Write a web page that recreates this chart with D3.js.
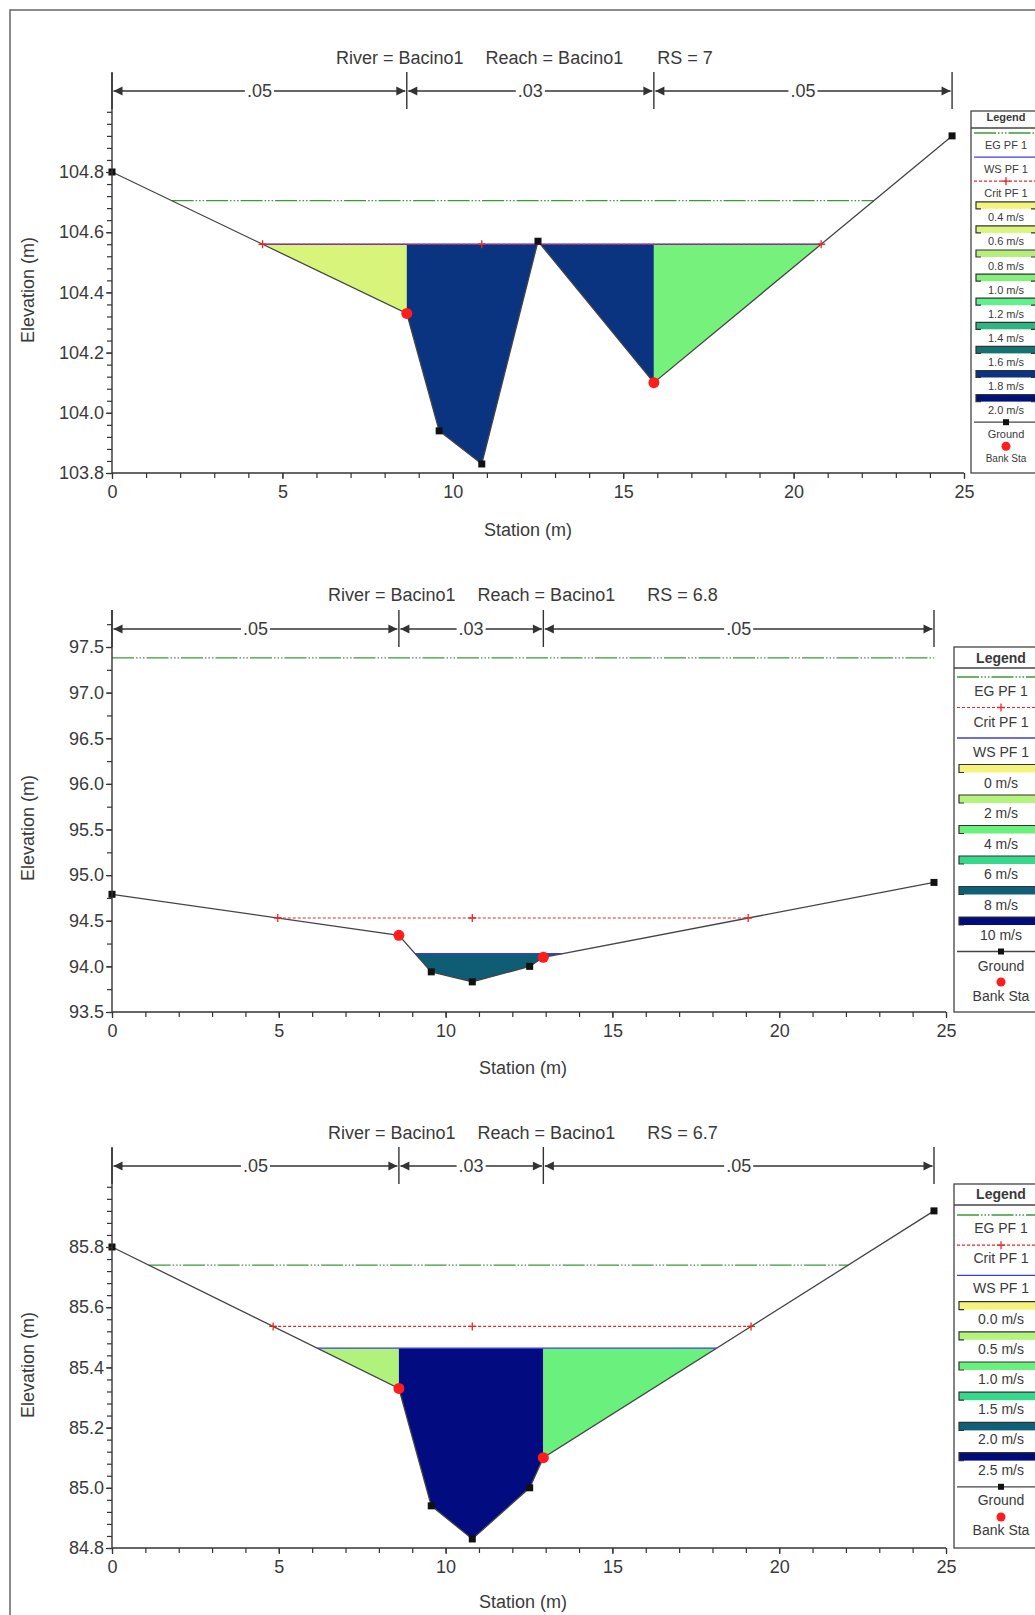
<!DOCTYPE html>
<html>
<head>
<meta charset="UTF-8">
<title>Cross sections Bacino1</title>
<style>
    body {
        margin: 0;
        background: #fff;
    }
    svg {
        display: block;
        font-family: "Liberation Sans", Arial, sans-serif;
    }
    .axis path.domain {
        display: none;
    }
    .axis line {
        stroke: #333;
        stroke-width: 1.2;
    }
    .axis text {
        font-size: 18px;
        fill: #3a3a3a;
    }
    .label {
        font-size: 18px;
        fill: #3a3a3a;
    }
    .ground {
        fill: none;
        stroke: #444;
        stroke-width: 1.3;
    }
    .eg {
        fill: none;
        stroke: #3a9a3a;
        stroke-width: 1.3;
        stroke-dasharray: 22 2 1.5 2 1.5 2 1.5 2;
    }
    .ws {
        fill: none;
        stroke: #3c3cdc;
        stroke-width: 1.3;
    }
    .crit {
        fill: none;
        stroke: #e82828;
        stroke-width: 1.2;
        stroke-dasharray: 3 2;
    }
    .critmark {
        stroke: #e82828;
        stroke-width: 1.3;
    }
    .bank {
        fill: #ff1c1c;
    }
    .gpt {
        fill: #111;
    }
    .nbar {
        stroke: #333;
        stroke-width: 1.4;
        fill: none;
    }
    .legend rect.box {
        fill: #fff;
        stroke: #444;
        stroke-width: 1.3;
    }
    .legend text {
        fill: #3a3a3a;
        text-anchor: middle;
    }
</style>
<script src="https://cdn.jsdelivr.net/npm/d3@7"></script>
</head>
<body>
<script>

    // ---- RS = 7 ----
    var rs7Station = [0, 8.65, 9.6, 10.85, 12.5, 15.9, 24.65];
    var rs7Elev = [104.80, 104.33, 103.94, 103.83, 104.57, 104.10, 104.92];
    var rs7Banks = [8.65, 15.9];
    var rs7NBreaks = [0, 8.65, 15.9, 24.65];
    var rs7NValues = [".05", ".03", ".05"];
    var rs7EG = 104.705, rs7WS = 104.56, rs7Crit = 104.56;
    var rs7YLabels = [103.8, 104.0, 104.2, 104.4, 104.6, 104.8];
    var rs7Lines = ["EG PF 1", "WS PF 1", "Crit PF 1"];
    var rs7Speeds = ["0.4 m/s", "0.6 m/s", "0.8 m/s", "1.0 m/s", "1.2 m/s", "1.4 m/s", "1.6 m/s", "1.8 m/s", "2.0 m/s"];

    // ---- RS = 6.8 ----
    var rs68Station = [0, 8.6, 9.57, 10.8, 12.52, 12.93, 24.64];
    var rs68Elev = [94.79, 94.34, 93.94, 93.83, 94.0, 94.10, 94.92];
    var rs68Banks = [8.6, 12.93];
    var rs68NBreaks = [0, 8.6, 12.93, 24.64];
    var rs68NValues = [".05", ".03", ".05"];
    var rs68EG = 97.38, rs68WS = 94.14, rs68Crit = 94.53;
    var rs68YLabels = [93.5, 94.0, 94.5, 95.0, 95.5, 96.0, 96.5, 97.0, 97.5];
    var rs68Lines = ["EG PF 1", "Crit PF 1", "WS PF 1"];
    var rs68Speeds = ["0 m/s", "2 m/s", "4 m/s", "6 m/s", "8 m/s", "10 m/s"];

    // ---- RS = 6.7 ----
    var rs67Station = [0, 8.6, 9.57, 10.8, 12.52, 12.93, 24.64];
    var rs67Elev = [85.80, 85.33, 84.94, 84.83, 85.0, 85.10, 85.92];
    var rs67Banks = [8.6, 12.93];
    var rs67NBreaks = [0, 8.6, 12.93, 24.64];
    var rs67NValues = [".05", ".03", ".05"];
    var rs67EG = 85.74, rs67WS = 85.464, rs67Crit = 85.536;
    var rs67YLabels = [84.8, 85.0, 85.2, 85.4, 85.6, 85.8];
    var rs67Lines = ["EG PF 1", "Crit PF 1", "WS PF 1"];
    var rs67Speeds = ["0.0 m/s", "0.5 m/s", "1.0 m/s", "1.5 m/s", "2.0 m/s", "2.5 m/s"];

    var xLabels = [0, 5, 10, 15, 20, 25];

    // colours (left overbank, channel, right overbank) and legend swatches
    var rs7Fill = ["#d8f47a", "#0a3480", "#76f27c"];
    var rs68Fill = ["#0e5d74", "#0e5d74", "#0e5d74"];
    var rs67Fill = ["#b0f27c", "#020c80", "#6af07c"];
    var rs7SpeedColors = ["#f4f47c", "#dcf47c", "#b6ee7c", "#84f07c", "#5ef28a", "#2fb485", "#157272", "#0b3381", "#001276"];
    var rs68SpeedColors = ["#f4f47c", "#b4f47c", "#6af07c", "#36d88c", "#0f5f78", "#000c7a"];

    var svg = d3.select("body").append("svg")
            .attr("width", 1035)
            .attr("height", 1615);

    svg.append("rect")
            .attr("x", 10).attr("y", 10)
            .attr("width", 1060).attr("height", 1640)
            .attr("fill", "none")
            .attr("stroke", "#666")
            .attr("stroke-width", 1.5);

    function crossing(st, el, i, level) {
        var t = (level - el[i]) / (el[i + 1] - el[i]);
        return st[i] + t * (st[i + 1] - st[i]);
    }

    // outermost stations where a level meets the ground
    function levelExtent(st, el, level) {
        var n = st.length, lo = st[0], hi = st[n - 1], i;
        if (el[0] > level) {
            for (i = 0; i < n - 1; i++) {
                if (el[i + 1] < level) { lo = crossing(st, el, i, level); break; }
            }
        }
        if (el[n - 1] > level) {
            for (i = n - 2; i >= 0; i--) {
                if (el[i] < level) { hi = crossing(st, el, i, level); break; }
            }
        }
        return [lo, hi];
    }

    function chart(d, L) {
        var g = svg.append("g");

        var x = d3.scaleLinear().domain([0, 25]).range([L.x0, L.x1]);
        var y = d3.scaleLinear().domain(L.yDom).range(L.yRng);
        var yBottom = L.yRng[0];

        // water, split into left overbank / channel / right overbank
        var pts = [];
        d.station.forEach(function (s, i) {
            pts.push([s, d.elev[i]]);
            if (i < d.station.length - 1 && (d.elev[i] - d.ws) * (d.elev[i + 1] - d.ws) < 0) {
                pts.push([crossing(d.station, d.elev, i, d.ws), d.ws]);
            }
        });
        var edges = [-Infinity, d.banks[0], d.banks[1], Infinity];
        var area = d3.area()
                .x(function (p) { return x(p[0]); })
                .y0(y(d.ws))
                .y1(function (p) { return y(Math.min(p[1], d.ws)); });
        [0, 1, 2].forEach(function (k) {
            var part = pts.filter(function (p) { return p[0] >= edges[k] && p[0] <= edges[k + 1]; });
            g.append("path").attr("d", area(part)).attr("fill", d.fill[k]);
        });

        // energy grade
        var egx = levelExtent(d.station, d.elev, d.eg);
        g.append("line").attr("class", "eg")
                .attr("x1", x(egx[0])).attr("x2", x(egx[1]))
                .attr("y1", y(d.eg)).attr("y2", y(d.eg));

        // ground
        var line = d3.line()
                .x(function (s, i) { return x(s); })
                .y(function (s, i) { return y(d.elev[i]); });
        g.append("path").attr("class", "ground").attr("d", line(d.station));

        // water surface
        var wsx = levelExtent(d.station, d.elev, d.ws);
        g.append("line").attr("class", "ws")
                .attr("x1", x(wsx[0])).attr("x2", x(wsx[1]))
                .attr("y1", y(d.ws)).attr("y2", y(d.ws));

        // critical depth with + marks at the ends and over the thalweg
        var crx = levelExtent(d.station, d.elev, d.crit);
        g.append("line").attr("class", "crit")
                .attr("x1", x(crx[0])).attr("x2", x(crx[1]))
                .attr("y1", y(d.crit)).attr("y2", y(d.crit));
        var thalweg = d.station[d.elev.indexOf(d3.min(d.elev))];
        [crx[0], thalweg, crx[1]].forEach(function (s) {
            g.append("path").attr("class", "critmark")
                    .attr("d", "M" + (x(s) - 4) + "," + y(d.crit) + "h8M" + x(s) + "," + (y(d.crit) - 4) + "v8");
        });

        // ground points and bank stations
        d.station.forEach(function (s, i) {
            if (d.banks.indexOf(s) >= 0) {
                g.append("circle").attr("class", "bank")
                        .attr("cx", x(s)).attr("cy", y(d.elev[i])).attr("r", 5.5);
            } else {
                g.append("rect").attr("class", "gpt")
                        .attr("x", x(s) - 3.5).attr("y", y(d.elev[i]) - 3.5)
                        .attr("width", 7).attr("height", 7);
            }
        });

        // axes
        g.append("line").attr("stroke", "#333").attr("stroke-width", 1.4)
                .attr("x1", L.x0).attr("x2", L.x0).attr("y1", L.axisTop).attr("y2", yBottom);
        g.append("line").attr("stroke", "#333").attr("stroke-width", 1.4)
                .attr("x1", L.x0).attr("x2", L.x1).attr("y1", yBottom).attr("y2", yBottom);

        var yMinor = d3.range(L.yDom[0], L.minorTop + 1e-6, L.minorStep);
        g.append("g").attr("class", "axis")
                .attr("transform", "translate(" + L.x0 + ",0)")
                .call(d3.axisLeft(y).tickValues(yMinor).tickSize(5).tickFormat(""));
        g.append("g").attr("class", "axis")
                .attr("transform", "translate(" + L.x0 + ",0)")
                .call(d3.axisLeft(y).tickValues(d.yLabels).tickSize(6).tickPadding(2).tickFormat(d3.format(L.yFmt)));

        g.append("g").attr("class", "axis")
                .attr("transform", "translate(0," + yBottom + ")")
                .call(d3.axisBottom(x).tickValues(d3.range(0, 26, 1)).tickSize(5).tickFormat(""));
        g.append("g").attr("class", "axis")
                .attr("transform", "translate(0," + yBottom + ")")
                .call(d3.axisBottom(x).tickValues(xLabels).tickSize(6).tickPadding(6));

        g.append("text").attr("class", "label")
                .attr("text-anchor", "middle")
                .attr("x", (L.x0 + L.x1) / 2 - L.stationShift).attr("y", L.stationY)
                .text("Station (m)");
        g.append("text").attr("class", "label")
                .attr("text-anchor", "middle")
                .attr("transform", "translate(34," + ((L.axisTop + yBottom) / 2 + 17) + ") rotate(-90)")
                .text("Elevation (m)");

        // title
        var title = g.append("text").attr("class", "label")
                .attr("x", L.titleX).attr("y", L.titleY);
        title.append("tspan").text("River = Bacino1");
        title.append("tspan").attr("dx", 22).text("Reach = Bacino1");
        title.append("tspan").attr("dx", L.rsGap).text("RS = " + d.rs);

        // Manning's n bar
        d.nBreaks.forEach(function (s) {
            g.append("line").attr("class", "nbar")
                    .attr("x1", x(s)).attr("x2", x(s))
                    .attr("y1", L.barY - 19).attr("y2", L.barY + 18);
        });
        d.nValues.forEach(function (v, i) {
            var a = x(d.nBreaks[i]) + 1.5, b = x(d.nBreaks[i + 1]) - 1.5, yb = L.barY;
            g.append("line").attr("class", "nbar")
                    .attr("x1", a).attr("x2", b).attr("y1", yb).attr("y2", yb);
            g.append("path").attr("fill", "#333")
                    .attr("d", "M" + a + "," + yb + "l9,-4.5v9z");
            g.append("path").attr("fill", "#333")
                    .attr("d", "M" + b + "," + yb + "l-9,-4.5v9z");
            var t = g.append("text").attr("class", "label")
                    .attr("text-anchor", "middle")
                    .attr("x", (a + b) / 2).attr("y", yb + 6)
                    .text(v);
            var bb = t.node().getBBox();
            g.insert("rect", function () { return t.node(); })
                    .attr("x", bb.x - 2).attr("y", yb - 3)
                    .attr("width", bb.width + 4).attr("height", 6)
                    .attr("fill", "#fff");
        });

        legend(g, d, L.lg);
    }

    function legend(g, d, lg) {
        var lgG = g.append("g").attr("class", "legend");
        lgG.append("rect").attr("class", "box")
                .attr("x", lg.x).attr("y", lg.top)
                .attr("width", lg.w).attr("height", lg.bottom - lg.top);
        lgG.append("text")
                .attr("x", lg.x + lg.w / 2).attr("y", lg.headerY)
                .attr("font-size", lg.headSize).attr("font-weight", "bold")
                .text("Legend");
        lgG.append("line").attr("stroke", "#444").attr("stroke-width", 1.3)
                .attr("x1", lg.x).attr("x2", lg.x + lg.w)
                .attr("y1", lg.sepY).attr("y2", lg.sepY);

        var x0 = lg.x + 3, x1 = lg.x + lg.w - 3, cx = lg.x + lg.w / 2;
        var items = [];
        d.lines.forEach(function (n) { items.push({type: "line", name: n}); });
        d.speeds.forEach(function (n, i) { items.push({type: "swatch", name: n, color: d.speedColors[i]}); });
        items.push({type: "ground", name: "Ground"});
        items.push({type: "bank", name: "Bank Sta"});

        items.forEach(function (it, i) {
            var yy = lg.first + i * lg.step;
            if (it.type === "line") {
                var cls = it.name.indexOf("EG") === 0 ? "eg" : (it.name.indexOf("WS") === 0 ? "ws" : "crit");
                lgG.append("line").attr("class", cls)
                        .attr("x1", x0).attr("x2", x1).attr("y1", yy).attr("y2", yy);
                if (cls === "crit") {
                    lgG.append("path").attr("class", "critmark")
                            .attr("d", "M" + (cx - 4) + "," + yy + "h8M" + cx + "," + (yy - 4) + "v8");
                }
            } else if (it.type === "swatch") {
                var h = lg.swH, sx0 = x0 + 2, sx1 = x1 - 2;
                lgG.append("rect").attr("x", sx0).attr("y", yy - h / 2)
                        .attr("width", sx1 - sx0).attr("height", h)
                        .attr("fill", it.color);
                lgG.append("path").attr("fill", "none").attr("stroke", "#333").attr("stroke-width", 1.2)
                        .attr("d", "M" + (sx0 + 5) + "," + (yy + h / 2) + "H" + sx0 + "V" + (yy - h / 2) +
                                "H" + sx1 + "V" + (yy + h / 2) + "H" + (sx1 - 5));
            } else if (it.type === "ground") {
                lgG.append("line").attr("class", "ground")
                        .attr("x1", x0).attr("x2", x1).attr("y1", yy).attr("y2", yy);
                lgG.append("rect").attr("class", "gpt")
                        .attr("x", cx - 3).attr("y", yy - 3).attr("width", 6).attr("height", 6);
            } else {
                lgG.append("circle").attr("class", "bank")
                        .attr("cx", cx).attr("cy", yy).attr("r", 4.5);
            }
            lgG.append("text")
                    .attr("x", cx).attr("y", yy + lg.labelDy)
                    .attr("font-size", it.type === "bank" ? lg.bankSize : lg.fontSize)
                    .text(it.name);
        });
    }

    chart({
        rs: "7", station: rs7Station, elev: rs7Elev, banks: rs7Banks,
        nBreaks: rs7NBreaks, nValues: rs7NValues,
        eg: rs7EG, ws: rs7WS, crit: rs7Crit, yLabels: rs7YLabels,
        lines: rs7Lines, speeds: rs7Speeds, speedColors: rs7SpeedColors, fill: rs7Fill
    }, {
        x0: 112, x1: 964, yDom: [103.8, 104.8], yRng: [473, 172], yFmt: ".1f",
        minorStep: 0.04, minorTop: 105.0, axisTop: 73,
        barY: 91, titleX: 336, titleY: 64, rsGap: 34, stationY: 536, stationShift: 10,
        lg: {x: 971, w: 70, top: 111, bottom: 473, headerY: 121, sepY: 128, first: 133, step: 24.1,
             labelDy: 16, fontSize: 11, bankSize: 10, headSize: 11, swH: 7}
    });

    chart({
        rs: "6.8", station: rs68Station, elev: rs68Elev, banks: rs68Banks,
        nBreaks: rs68NBreaks, nValues: rs68NValues,
        eg: rs68EG, ws: rs68WS, crit: rs68Crit, yLabels: rs68YLabels,
        lines: rs68Lines, speeds: rs68Speeds, speedColors: rs68SpeedColors, fill: rs68Fill
    }, {
        x0: 112, x1: 946, yDom: [93.5, 97.5], yRng: [1012, 647], yFmt: ".1f",
        minorStep: 0.25, minorTop: 97.75, axisTop: 610,
        barY: 629, titleX: 328, titleY: 601, rsGap: 32, stationY: 1074, stationShift: 6,
        lg: {x: 954, w: 94, top: 647, bottom: 1012, headerY: 663, sepY: 668, first: 677, step: 30.5,
             labelDy: 19, fontSize: 14, bankSize: 14, headSize: 14, swH: 8}
    });

    chart({
        rs: "6.7", station: rs67Station, elev: rs67Elev, banks: rs67Banks,
        nBreaks: rs67NBreaks, nValues: rs67NValues,
        eg: rs67EG, ws: rs67WS, crit: rs67Crit, yLabels: rs67YLabels,
        lines: rs67Lines, speeds: rs67Speeds, speedColors: rs68SpeedColors, fill: rs67Fill
    }, {
        x0: 112, x1: 946, yDom: [84.8, 85.8], yRng: [1548, 1247], yFmt: ".1f",
        minorStep: 0.04, minorTop: 86.0, axisTop: 1148,
        barY: 1166, titleX: 328, titleY: 1139, rsGap: 32, stationY: 1608, stationShift: 6,
        lg: {x: 954, w: 94, top: 1184, bottom: 1548, headerY: 1199, sepY: 1205, first: 1215, step: 30.2,
             labelDy: 18, fontSize: 14, bankSize: 14, headSize: 14, swH: 8}
    });
</script>
</body>
</html>
